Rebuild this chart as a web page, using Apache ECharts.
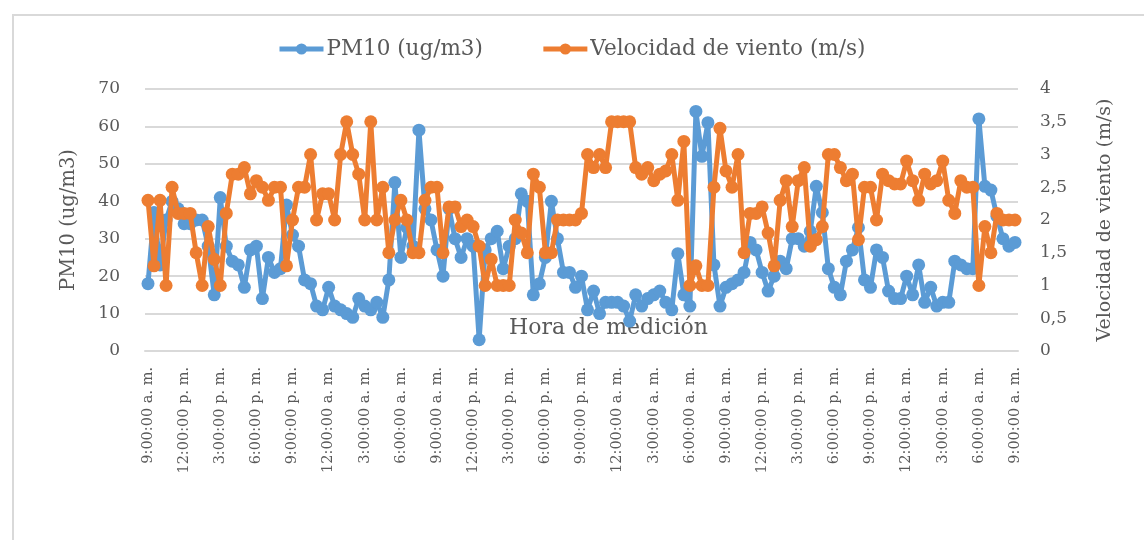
<!DOCTYPE html>
<html>
<head>
<meta charset="utf-8">
<script src="https://cdn.jsdelivr.net/npm/echarts@6/dist/echarts.min.js"></script>
<style>
html,body{margin:0;padding:0;background:#fff;}
#frame{position:absolute;left:12px;top:14px;width:1140px;height:530px;border:2px solid #d9d9d9;box-sizing:border-box;}
#chart{position:absolute;left:0;top:0;width:1144px;height:540px;}
</style>
</head>
<body>
<div id="frame"></div>
<div id="chart"></div>
<script>
// Series names
const seriesNames = ["PM10 (ug/m3)", "Velocidad de viento (m/s)"];

// Categories: half-hourly readings from 9:00:00 a. m. over three days (145 readings)
const startHour = 9, stepMinutes = 30, nPoints = 145;
const categories = [];
for (let k = 0; k < nPoints; k++) {
  const mins = startHour * 60 + k * stepMinutes;
  const h24 = Math.floor(mins / 60) % 24, m = mins % 60;
  const h12 = h24 % 12 === 0 ? 12 : h24 % 12;
  categories.push(h12 + ":" + (m < 10 ? "0" : "") + m + ":00 " + (h24 < 12 ? "a. m." : "p. m."));
}

// PM10 (ug/m3)
const pm10 = [
  18, 37, 23, 35, 40, 38, 34, 34, 35, 35,
  28, 15, 41, 28, 24, 23, 17, 27, 28, 14,
  25, 21, 22, 39, 31, 28, 19, 18, 12, 11,
  17, 12, 11, 10, 9, 14, 12, 11, 13, 9,
  19, 45, 25, 33, 28, 59, 38, 35, 27, 20,
  38, 30, 25, 30, 28, 3, 27, 30, 32, 22,
  28, 30, 42, 40, 15, 18, 25, 40, 30, 21,
  21, 17, 20, 11, 16, 10, 13, 13, 13, 12,
  8, 15, 12, 14, 15, 16, 13, 11, 26, 15,
  12, 64, 52, 61, 23, 12, 17, 18, 19, 21,
  29, 27, 21, 16, 20, 24, 22, 30, 30, 28,
  32, 44, 37, 22, 17, 15, 24, 27, 33, 19,
  17, 27, 25, 16, 14, 14, 20, 15, 23, 13,
  17, 12, 13, 13, 24, 23, 22, 22, 62, 44,
  43, 36, 30, 28, 29
];

// Velocidad de viento (m/s)
const wind = [
  2.3, 1.3, 2.3, 1.0, 2.5, 2.1, 2.1, 2.1, 1.5, 1.0,
  1.9, 1.4, 1.0, 2.1, 2.7, 2.7, 2.8, 2.4, 2.6, 2.5,
  2.3, 2.5, 2.5, 1.3, 2.0, 2.5, 2.5, 3.0, 2.0, 2.4,
  2.4, 2.0, 3.0, 3.5, 3.0, 2.7, 2.0, 3.5, 2.0, 2.5,
  1.5, 2.0, 2.3, 2.0, 1.5, 1.5, 2.3, 2.5, 2.5, 1.5,
  2.2, 2.2, 1.9, 2.0, 1.9, 1.6, 1.0, 1.4, 1.0, 1.0,
  1.0, 2.0, 1.8, 1.5, 2.7, 2.5, 1.5, 1.5, 2.0, 2.0,
  2.0, 2.0, 2.1, 3.0, 2.8, 3.0, 2.8, 3.5, 3.5, 3.5,
  3.5, 2.8, 2.7, 2.8, 2.6, 2.7, 2.75, 3.0, 2.3, 3.2,
  1.0, 1.3, 1.0, 1.0, 2.5, 3.4, 2.75, 2.5, 3.0, 1.5,
  2.1, 2.1, 2.2, 1.8, 1.3, 2.3, 2.6, 1.9, 2.6, 2.8,
  1.6, 1.7, 1.9, 3.0, 3.0, 2.8, 2.6, 2.7, 1.7, 2.5,
  2.5, 2.0, 2.7, 2.6, 2.55, 2.55, 2.9, 2.6, 2.3, 2.7,
  2.55, 2.6, 2.9, 2.3, 2.1, 2.6, 2.5, 2.5, 1.0, 1.9,
  1.5, 2.1, 2.0, 2.0, 2.0
];

const font = "'DejaVu Serif', 'Liberation Serif', serif";
const textColor = "#595959";

const chart = echarts.init(document.getElementById("chart"));
chart.setOption({
  animation: false,
  textStyle: { fontFamily: font },
  legend: {
    top: 33,
    left: 272,
    itemWidth: 44,
    itemHeight: 14,
    itemGap: 58,
    lineStyle: { width: 5 },
    textStyle: { fontFamily: font, fontSize: 21.5, color: textColor, padding: [0, 0, 0, -2] },
    data: seriesNames
  },
  grid: { left: 145, right: 126, top: 89, bottom: 189 },
  xAxis: {
    type: "category",
    data: categories,
    boundaryGap: true,
    name: "Hora de medición",
    nameLocation: "middle",
    nameGap: -34,
    nameTextStyle: { fontFamily: font, fontSize: 22, color: textColor, padding: [0, 0, 0, 54] },
    axisLine: { show: true, lineStyle: { color: "#d9d9d9", width: 2 } },
    axisTick: { show: false },
    axisLabel: {
      interval: 5,
      rotate: 90,
      margin: 16,
      fontFamily: font,
      fontSize: 14.5,
      color: textColor
    }
  },
  yAxis: [
    {
      type: "value",
      min: 0, max: 70, interval: 10,
      name: "PM10 (ug/m3)",
      nameLocation: "middle",
      nameGap: 66,
      nameRotate: 90,
      nameTextStyle: { fontFamily: font, fontSize: 19.5, color: textColor },
      axisLine: { show: false },
      axisTick: { show: false },
      axisLabel: { margin: 25, fontFamily: font, fontSize: 17, color: textColor },
      splitLine: { lineStyle: { color: "#d9d9d9", width: 2 } }
    },
    {
      type: "value",
      min: 0, max: 4, interval: 0.5,
      name: "Velocidad de viento (m/s)",
      nameLocation: "middle",
      nameGap: 78,
      nameRotate: 90,
      nameTextStyle: { fontFamily: font, fontSize: 19, color: textColor },
      axisLine: { show: false },
      axisTick: { show: false },
      axisLabel: {
        margin: 22,
        fontFamily: font, fontSize: 17, color: textColor,
        formatter: v => String(v).replace(".", ",")
      },
      splitLine: { show: false }
    }
  ],
  series: [
    {
      name: seriesNames[0],
      type: "line",
      yAxisIndex: 0,
      data: pm10,
      symbol: "circle",
      symbolSize: 13,
      showAllSymbol: true,
      lineStyle: { color: "#5B9BD5", width: 5 },
      itemStyle: { color: "#5B9BD5" },
      z: 2
    },
    {
      name: seriesNames[1],
      type: "line",
      yAxisIndex: 1,
      data: wind,
      symbol: "circle",
      symbolSize: 13,
      showAllSymbol: true,
      lineStyle: { color: "#ED7D31", width: 5 },
      itemStyle: { color: "#ED7D31" },
      z: 3
    }
  ]
});
</script>
</body>
</html>
